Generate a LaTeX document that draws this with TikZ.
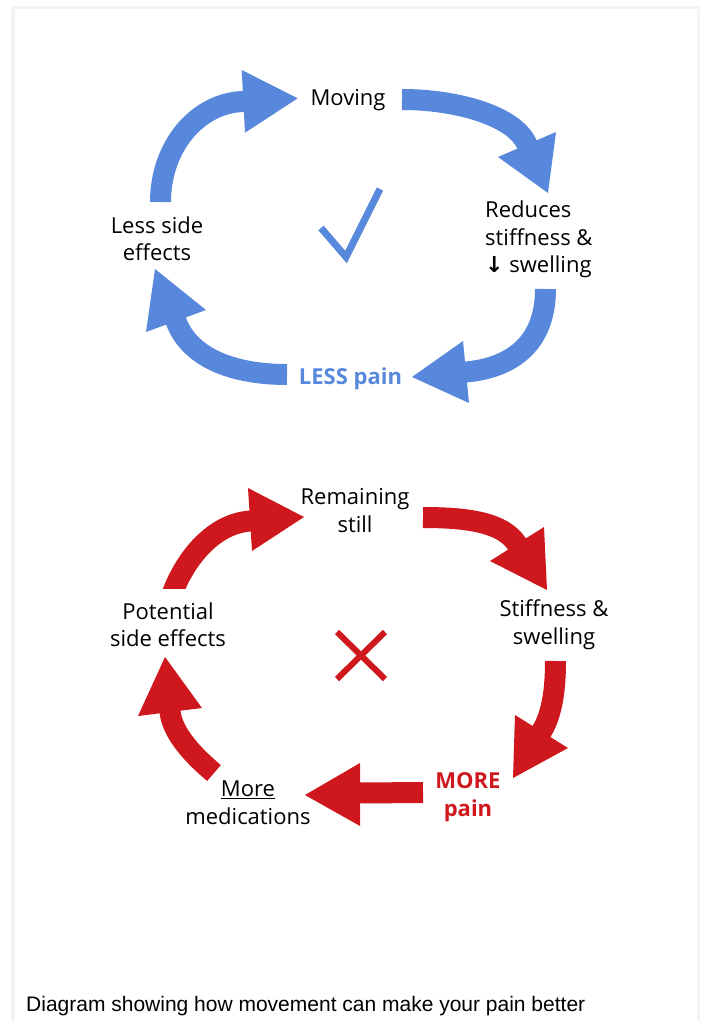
\documentclass[tikz,border=0pt]{standalone}
\usepackage{fontspec}
\setmainfont{Open Sans}
\newfontfamily\capfont{Liberation Sans}
\newfontfamily\symfont{DejaVu Sans}
\definecolor{cblue}{RGB}{87,136,220}
\definecolor{cred}{RGB}{206,24,30}
\definecolor{framegray}{RGB}{243,243,243}
\begin{document}
\begin{tikzpicture}[x=1pt,y=-1pt,
  lbl/.style={font=\fontsize{22}{27.5}\selectfont, align=center, inner sep=0pt},
  boldlbl/.style={lbl, font=\fontsize{22}{27.5}\selectfont\bfseries},
  bshaft/.style={draw=cblue, line width=21pt},
  rshaft/.style={draw=cred, line width=21pt},
  bhead/.style={fill=cblue},
  rhead/.style={fill=cred}]
\useasboundingbox (0,0) rectangle (702,1021);
\fill[framegray] (11,6) rectangle (700,1021);
\fill[white] (14.5,9.3) rectangle (696.5,1021);

% ---------- blue cycle ----------
\node[lbl] (moving) at (348,100) {Moving};
\node[lbl] (lessside) at (157,238.5) {Less side\\effects};
\node[lbl, align=left, anchor=west] (reduces) at (485,239.5) {Reduces\\stiffness \&\\{\symfont\bfseries ↓} swelling};
\node[boldlbl, text=cblue] (lesspain) at (350.5,379) {LESS pain};

\coordinate (b1a) at (160.5,202);   \coordinate (b1b) at (243,101.5);
\coordinate (b2a) at (402,99.5);    \coordinate (b2b) at (527,144.5);
\coordinate (b3a) at (545.5,289);   \coordinate (b3b) at (466,372);
\coordinate (b4a) at (287,374.5);   \coordinate (b4b) at (176,321);

\draw[bshaft] (b1a) .. controls (160.5,146.5) and (197.5,103) .. (b1b) -- ++(3,-0.2);
\fill[bhead] (241.7,70) -- (297.7,98.3) -- (245,132.7) -- cycle;
\draw[bshaft] (b2a) .. controls (455,99.5) and (514,115) .. (b2b) -- ++(1.2,2.7);
\fill[bhead] (498,157) -- (548,193) -- (556,132) -- cycle;
\draw[bshaft] (b3a) .. controls (545.5,345) and (510,368) .. (b3b) -- ++(-3,0.3);
\fill[bhead] (463,341) -- (412,377) -- (469,403) -- cycle;
\draw[bshaft] (b4a) .. controls (235,374.5) and (190,359) .. (b4b) -- ++(-1,-2.8);
\fill[bhead] (146,332) -- (155,269) -- (206,310) -- cycle;

\draw[draw=cblue, line width=7pt, miter limit=10] (321,228) -- (346,257) -- (380,189);

% ---------- red cycle ----------
\node[lbl] (remaining) at (355,510.5) {Remaining\\still};
\node[lbl] (stiff) at (554,624.5) {Stiffness \&\\swelling};
\node[lbl] (potential) at (168,624.5) {Potential\\side effects};
\node[lbl] (moremed) at (248,802.5) {\underline{More}\\medications};
\node[boldlbl, text=cred] (morepain) at (468,797) {MORE\\pain};

\coordinate (r1a) at (174.5,588);   \coordinate (r1b) at (250,521);
\coordinate (r2a) at (423,517.5);   \coordinate (r2b) at (517,544);
\coordinate (r3a) at (555.5,661);   \coordinate (r3b) at (541.5,731.5);
\coordinate (r4a) at (423,792.5);   \coordinate (r4b) at (358,793);
\coordinate (r5a) at (214,773);     \coordinate (r5b) at (170,712);

\begin{scope}
\clip (100,440) rectangle (330,588);
\draw[rshaft] (169.9,599) -- (r1a) .. controls (186,560) and (212,524) .. (r1b) -- ++(3,-0.2);
\end{scope}
\fill[rhead] (248,488) -- (304,517) -- (252,551) -- cycle;
\draw[rshaft] (r2a) .. controls (470,517.5) and (503,523) .. (r2b) -- ++(1.6,2.5);
\fill[rhead] (490,561) -- (547,590) -- (544,527) -- cycle;
\draw[rshaft] (r3a) .. controls (555.5,690) and (552,714.5) .. (r3b) -- ++(-1.6,2.5);
\fill[rhead] (515,715) -- (513,778) -- (568,748) -- cycle;
\draw[rshaft] (r4a) -- (r4b);
\fill[rhead] (360,763) -- (305,795) -- (360,826) -- cycle;
\draw[rshaft] (r5a) .. controls (195,757) and (173,735) .. (r5b) -- ++(-0.4,-3);
\fill[rhead] (138,716) -- (165,657) -- (202,708) -- cycle;

\draw[draw=cred, line width=6pt] (337,632) -- (385,679);
\draw[draw=cred, line width=6pt] (385,632) -- (337,679);

% ---------- caption ----------
\node[anchor=base west, inner sep=0pt, font=\capfont\fontsize{21}{24}\selectfont] (caption) at (26,1011) {Diagram showing how movement can make your pain better};
\end{tikzpicture}
\end{document}
